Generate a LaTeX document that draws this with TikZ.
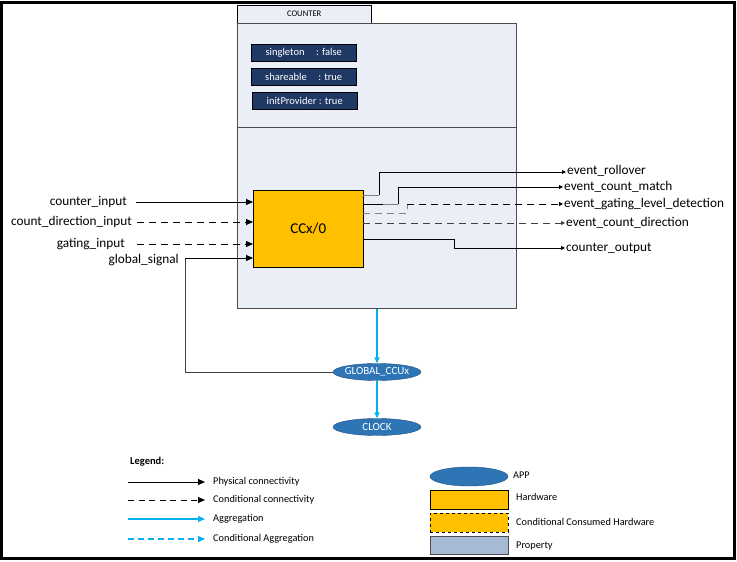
\documentclass[tikz,border=0pt]{standalone}
\usepackage{fontspec}
\setmainfont{Carlito}
\usetikzlibrary{arrows.meta,shapes.geometric}
\definecolor{boxbg}{HTML}{E9EEF7}
\definecolor{navy}{HTML}{1F3864}
\definecolor{hw}{HTML}{FFC000}
\definecolor{appfill}{HTML}{2E75B6}
\definecolor{appedge}{HTML}{1F4E79}
\definecolor{aggr}{HTML}{00B0F0}
\definecolor{prop}{HTML}{A6BAD6}
\definecolor{stub}{HTML}{7F7F7F}
\tikzset{
  conn/.style={draw=black, line width=0.9pt, -{Triangle[length=7pt,width=6pt]}},
  condconn/.style={conn, dash pattern=on 7pt off 5pt},
  aggrline/.style={draw=aggr, line width=1.3pt, -{Triangle[length=6pt,width=5pt]}},
  condaggr/.style={aggrline, dash pattern=on 6pt off 4pt},
  outconn/.style={draw=black, line width=0.9pt, -{Triangle[length=4pt,width=4pt]}},
  condout/.style={outconn, dash pattern=on 7pt off 5pt},
  propbox/.style={draw=black, fill=navy, text=white, font=\fontsize{10.5}{12}\selectfont, minimum width=105pt, minimum height=17pt, inner sep=0pt},
  appnode/.style={ellipse, draw=appedge, fill=appfill, text=white, minimum width=88pt, minimum height=17pt, inner xsep=-4pt, inner ysep=0pt, font=\fontsize{11}{12}\selectfont},
  lbl/.style={font=\fontsize{13.3}{15}\selectfont, inner sep=1pt},
  leg/.style={font=\fontsize{10.3}{12}\selectfont, anchor=west, inner sep=0pt},
}
\begin{document}
\begin{tikzpicture}[x=1pt,y=-1pt]
\useasboundingbox (0,0) rectangle (737,562);
\fill[white] (0,0) rectangle (737,562);
\draw[line width=3pt] (1.5,2.5) rectangle (734,558.5);

% COUNTER container
\node[draw=black, fill=boxbg, minimum width=134pt, minimum height=18pt, anchor=north west, inner sep=0pt, font=\fontsize{8.6}{9}\selectfont] (tab) at (237,5) {COUNTER};
\node[draw=black!70, fill=boxbg, line width=0.8pt, minimum width=279pt, minimum height=285pt, anchor=north west, inner sep=0pt] (main) at (237,23) {};
\coordinate (divL) at (237,127);
\coordinate (divR) at (516,127);
\draw[black!70, line width=0.8pt] (divL) -- (divR);

\node[propbox, anchor=north west] (p1) at (251,44) {singleton\hspace{1.1em}: false};
\node[propbox, anchor=north west] (p2) at (251,68) {shareable\hspace{1.1em}: true};
\node[propbox, anchor=north west] (p3) at (252,92) {initProvider : true};

% CCx/0
\node[draw=black, fill=hw, minimum width=110pt, minimum height=77pt, anchor=north west, inner sep=0pt, font=\fontsize{15}{17}\selectfont] (ccx) at (253,190) {CCx/0};

% inputs
\node[lbl, anchor=east] (in1) at (128,202) {counter\_input};
\node[lbl, anchor=east] (in2) at (133,222) {count\_direction\_input};
\node[lbl, anchor=east] (in3) at (126,244) {gating\_input};
\node[lbl, anchor=east] (in4) at (180,260) {global\_signal};
\coordinate (i1) at (136,202);
\coordinate (i2) at (137,222);
\coordinate (i3) at (137,244);
\draw[conn] (i1) -- (i1 -| ccx.west);
\draw[condconn] (i2) -- (i2 -| ccx.west);
\draw[condconn] (i3) -- (i3 -| ccx.west);

% outputs
\node[lbl, anchor=west] (o1) at (566,171) {event\_rollover};
\node[lbl, anchor=west] (o2) at (563,187) {event\_count\_match};
\node[lbl, anchor=west] (o3) at (563,204) {event\_gating\_level\_detection};
\node[lbl, anchor=west] (o4) at (565,223) {event\_count\_direction};
\node[lbl, anchor=west] (o5) at (565,248) {counter\_output};

\coordinate (s1) at (363,195);
\coordinate (s2) at (363,204);
\coordinate (s3) at (363,213);
\coordinate (s4) at (363,223);
\coordinate (s5) at (363,239);
\draw[stub, line width=0.9pt] (s1) -- (379,195);
\draw[outconn] (379,195) -- (379,172) -- (o1.west |- 0,172);
\draw[line width=0.9pt] (s2) -- (383,204);
\draw[stub, line width=0.9pt] (383,204) -- (398,204);
\draw[outconn] (398,204) -- (398,187) -- (o2.west |- 0,187);
\draw[stub, line width=0.9pt, dash pattern=on 7pt off 5pt] (s3) -- (407,213) -- (407,204);
\draw[condout] (407,204) -- (o3.west |- 0,204);
\draw[condout, draw=black!75] (s4) -- (o4.west |- 0,223);
\draw[outconn] (s5) -- (454,239) -- (454,248) -- (o5.west |- 0,248);

% apps
\node[appnode] (gccu) at (377,372) {GLOBAL\_CCUx};
\node[appnode] (clk) at (377,427) {CLOCK};
\draw[aggrline] (main.south -| gccu) -- (gccu.north);
\draw[aggrline] (gccu.south) -- (clk.north);

% global signal loop
\draw[black!75, line width=1pt] (gccu.west) -- (185,372) -- (185,258);
\draw[conn] (185,258) -- (ccx.west |- 0,258);

% Legend
\node[font=\fontsize{10.5}{12}\selectfont\bfseries, anchor=west, inner sep=0pt] (legt) at (130,462) {Legend:};
\coordinate (la1) at (128,482); \coordinate (lb1) at (205,482);
\coordinate (la2) at (128,500); \coordinate (lb2) at (205,500);
\coordinate (la3) at (128,519); \coordinate (lb3) at (205,519);
\coordinate (la4) at (128,539); \coordinate (lb4) at (205,539);
\draw[conn, line width=0.8pt] (la1) -- (lb1);
\draw[condconn, line width=0.8pt, dash pattern=on 6pt off 4.5pt] (la2) -- (lb2);
\draw[aggrline, line width=1.1pt, -{Triangle[length=7pt,width=6pt]}] (la3) -- (lb3);
\draw[condaggr, line width=1.1pt, -{Triangle[length=7pt,width=6pt]}] (la4) -- (lb4);
\node[leg] (lt1) at (213,482) {Physical connectivity};
\node[leg] (lt2) at (213,500) {Conditional connectivity};
\node[leg] (lt3) at (213,519) {Aggregation};
\node[leg] (lt4) at (213,539) {Conditional Aggregation};

\node[ellipse, draw=appedge, fill=appfill, minimum width=78pt, minimum height=19pt, inner sep=0pt] (lapp) at (469,476.5) {};
\node[draw=black, fill=hw, minimum width=78pt, minimum height=19pt, inner sep=0pt] (lhw) at (469,499.5) {};
\node[draw=black, fill=hw, dashed, minimum width=78pt, minimum height=19pt, inner sep=0pt] (lchw) at (469,522.5) {};
\node[draw=black!70, fill=prop, minimum width=78pt, minimum height=18pt, inner sep=0pt] (lprop) at (469,545) {};
\node[leg] (ltapp) at (513,475) {APP};
\node[leg] (lthw) at (516,497) {Hardware};
\node[leg] (ltchw) at (516,522) {Conditional Consumed Hardware};
\node[leg] (ltprop) at (516,546) {Property};
\end{tikzpicture}
\end{document}
